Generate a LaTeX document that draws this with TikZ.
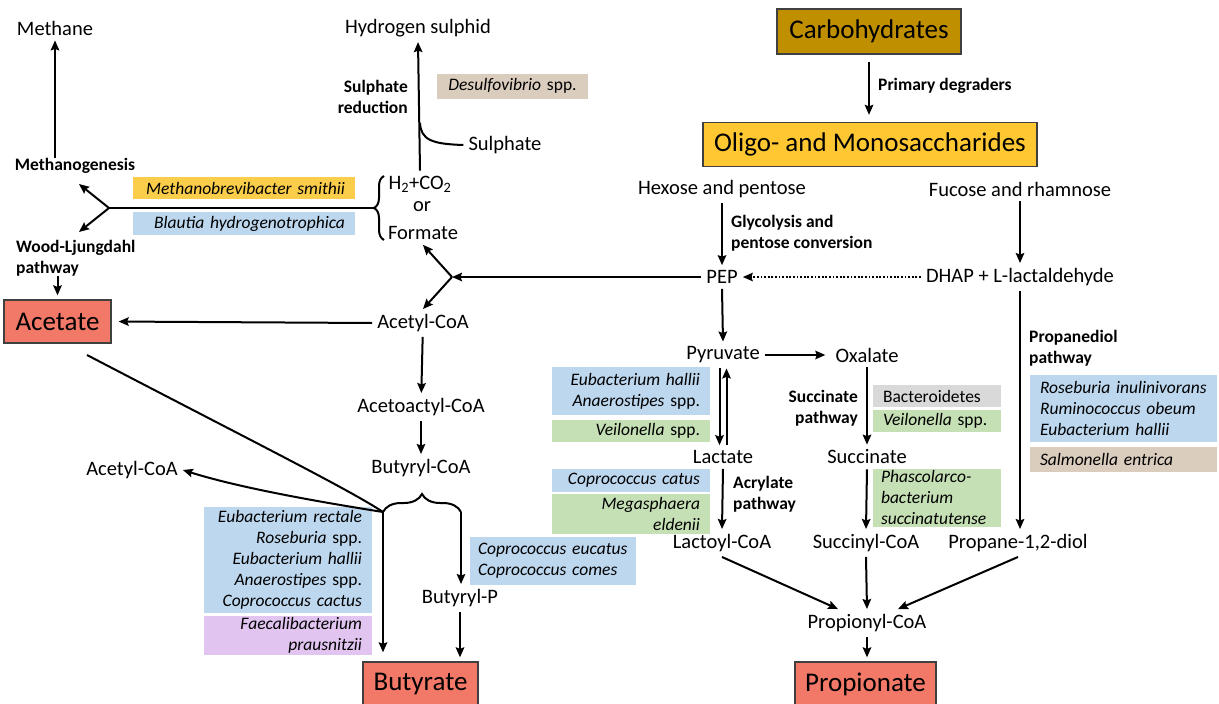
\documentclass[tikz,border=0pt]{standalone}
\usepackage{fontspec}
\setmainfont{Carlito}
\usetikzlibrary{arrows.meta,decorations.pathreplacing}
\definecolor{cblue}{RGB}{189,215,238}
\definecolor{cgreen}{RGB}{197,224,180}
\definecolor{cgrey}{RGB}{217,217,217}
\definecolor{ctan}{RGB}{218,205,190}
\definecolor{cyel}{RGB}{250,205,75}
\definecolor{cpurple}{RGB}{225,196,240}
\definecolor{cgold}{RGB}{191,143,0}
\definecolor{corange}{RGB}{255,200,50}
\definecolor{csalmon}{RGB}{242,120,104}
\begin{document}
\begin{tikzpicture}[x=1pt,y=-1pt,
  tx/.style={font=\fontsize{20.5}{24}\selectfont, inner sep=5pt},
  bl/.style={font=\fontsize{17.5}{21.5}\selectfont\bfseries, inner sep=0pt},
  spbox/.style={font=\fontsize{17.5}{21}\selectfont, inner xsep=10pt, inner ysep=0pt,
    execute at begin node={\hyphenpenalty=10000\exhyphenpenalty=10000}},
  bigbox/.style={draw=black!75, line width=1.3pt, font=\fontsize{27}{30}\selectfont, inner sep=0pt},
  arr/.style={-{Stealth[length=10pt,width=8.5pt,inset=1.5pt]}, line width=2pt},
  ln/.style={line width=2pt},
  brc/.style={line width=2pt, decorate},
]
\useasboundingbox (0,0) rectangle (1219,704);
\clip (0,0) rectangle (1219,704);

% ---------- big boxes ----------
\node[bigbox, fill=cgold, minimum width=184, minimum height=45] (carbo) at (869,31.5) {Carbohydrates};
\node[bigbox, fill=corange, minimum width=334, minimum height=44] (oligo) at (870,144.5) {Oligo- and Monosaccharides};
\node[bigbox, fill=csalmon, minimum width=107, minimum height=43] (acetate) at (57.5,321.5) {Acetate};
\node[bigbox, fill=csalmon, minimum width=115, minimum height=44] (butyrate) at (420.5,684) {Butyrate};
\node[bigbox, fill=csalmon, minimum width=141, minimum height=44] (propionate) at (865.5,684) {Propionate};

% ---------- species boxes ----------
\node[spbox, fill=cyel, minimum height=22, text width=202, align=right] (msm) at (244,188) {\textit{Methanobrevibacter smithii}};
\node[spbox, fill=cblue, minimum height=23, text width=202, align=right] (blau) at (244,223.5) {\textit{Blautia hydrogenotrophica}};
\node[spbox, fill=ctan, minimum height=25, text width=131, align=center] (desulf) at (512.5,86) {\textit{Desulfovibrio} spp.};
\node[spbox, fill=cblue, minimum height=106, text width=148, align=right] (eubr) at (288,559.5) {\textit{Eubacterium rectale}\\\textit{Roseburia} spp.\\\textit{Eubacterium hallii}\\\textit{Anaerostipes} spp.\\\textit{Coprococcus cactus}};
\node[spbox, fill=cpurple, minimum height=39, text width=148, align=right] (faec) at (288,635.5) {\textit{Faecalibacterium}\\\textit{prausnitzii}};
\node[spbox, fill=cblue, minimum height=48, inner xsep=8pt, text width=150, align=left] (copeu) at (553,561) {\textit{Coprococcus eucatus}\\\textit{Coprococcus comes}};
\node[spbox, fill=cblue, minimum height=48, text width=138, align=right] (ehal) at (631,391) {\textit{Eubacterium hallii}\\\textit{Anaerostipes} spp.};
\node[spbox, fill=cgreen, minimum height=22, text width=138, align=right] (veil1) at (631,431) {\textit{Veilonella} spp.};
\node[spbox, fill=cblue, minimum height=23, text width=138, align=right] (ccat) at (631,480) {\textit{Coprococcus catus}};
\node[spbox, fill=cgreen, minimum height=40, text width=138, align=right] (megas) at (631,514) {\textit{Megasphaera}\\\textit{eldenii}};
\node[spbox, fill=cgrey, minimum height=22, text width=108, align=left] (bact) at (937,396) {Bacteroidetes};
\node[spbox, fill=cgreen, minimum height=22, text width=108, align=left] (veil2) at (937,421) {\textit{Veilonella} spp.};
\node[spbox, fill=cgreen, minimum height=58, inner xsep=8pt, text width=112, align=left] (phasc) at (937,497.5) {\textit{Phascolarco-}\\\textit{bacterium}\\\textit{succinatutense}};
\node[spbox, fill=cblue, minimum height=67, text width=167, align=left] (rosi) at (1123.5,408.5) {\textit{Roseburia inulinivorans}\\\textit{Ruminococcus obeum}\\\textit{Eubacterium hallii}};
\node[spbox, fill=ctan, minimum height=25, text width=167, align=left] (salm) at (1123.5,459.5) {\textit{Salmonella entrica}};

% ---------- text nodes ----------
\node[tx] (methane) at (55,28) {Methane};
\node[tx] (hs) at (418,28) {Hydrogen sulphid};
\node[tx] (sulphate) at (505,145) {Sulphate};
\node[tx] (h2) at (420,184) {H\textsubscript{2}+CO\textsubscript{2}};
\node[tx] (or) at (422,207) {or};
\node[tx] (formate) at (423,233) {Formate};
\node[tx] (acetyl) at (423,323) {Acetyl-CoA};
\node[tx] (acetoac) at (421,407) {Acetoactyl-CoA};
\node[tx] (butcoa) at (421,468) {Butyryl-CoA};
\node[tx] (acl) at (132,470) {Acetyl-CoA};
\node[tx] (butp) at (460,598) {Butyryl-P};
\node[tx] (hexose) at (722,189) {Hexose and pentose};
\node[tx] (fucose) at (1020,189) {Fucose and rhamnose};
\node[tx] (pep) at (722,277) {PEP};
\node[tx] (dhap) at (1020,277) {DHAP + L-lactaldehyde};
\node[tx] (pyr) at (723,355) {Pyruvate};
\node[tx] (oxa) at (867,355) {Oxalate};
\node[tx] (lac) at (723,457) {Lactate};
\node[tx] (succ) at (867,457) {Succinate};
\node[tx] (lactoyl) at (722,543) {Lactoyl-CoA};
\node[tx] (succinyl) at (866,543) {Succinyl-CoA};
\node[tx] (propane) at (1018,543) {Propane-1,2-diol};
\node[tx] (propionyl) at (867,623) {Propionyl-CoA};

% ---------- bold labels ----------
\node[bl] (methanogen) at (75,166) {Methanogenesis};
\node[bl, anchor=west, align=left] (wood) at (16,258) {Wood-Ljungdahl\\pathway};
\node[bl, anchor=east, align=right] (sulred) at (408,97) {Sulphate\\reduction};
\node[bl, anchor=west] (prim) at (878,86) {Primary degraders};
\node[bl, anchor=west, align=left] (glyc) at (731,233) {Glycolysis and\\pentose conversion};
\node[bl, anchor=west, align=left] (acryl) at (733,494) {Acrylate\\pathway};
\node[bl, anchor=east, align=right] (succp) at (858,408) {Succinate\\pathway};
\node[bl, anchor=west, align=left] (propd) at (1029,348) {Propanediol\\pathway};

% ---------- junction coordinates ----------
\coordinate (v1) at (109,208);
\coordinate (v1a) at (79,184);
\coordinate (v1b) at (79,232);
\coordinate (btip) at (374,208);
\coordinate (sj) at (420,123);
\coordinate (v2) at (452,277);
\coordinate (acs) at (87,355);
\coordinate (bl) at (383,512);
\coordinate (br) at (461,512);

% ---------- left part ----------
\draw[arr] (methane.south |- methanogen.north) -- (methane.south);
\draw[ln] (btip) -- (v1);
\draw[arr] (v1) -- (v1a);
\draw[arr] (v1) -- (v1b);
\draw[arr, shorten >=4pt] (acetate.north |- wood.south) -- (acetate.north);
\draw[brc, decoration={brace, amplitude=10pt}] (384,240) -- (384,176);
\draw[arr] (h2.north) -- (hs.south);
\draw[ln] (sj) .. controls (421,140) and (432,144) .. (sulphate.west);
\draw[arr] (pep.west) -- (v2);
\draw[arr] (v2) -- (formate.south);
\draw[arr] (v2) -- (acetyl.north);
\draw[arr, shorten >=7pt] (acetyl.west) -- (acetate.east);
\draw[arr] (acetyl) -- (acetoac);
\draw[arr] (acetoac) -- (butcoa);
\draw[brc, decoration={brace, amplitude=18pt}] (bl) -- (br);
\draw[ln] (acs) .. controls (250,440) and (350,490) .. (bl);
\draw[arr] (bl) .. controls (320,502) and (240,488) .. (acl.east);
\draw[arr, shorten >=9pt] (bl) -- (bl |- butyrate.north);
\draw[arr] (br) -- (br |- butp.north);
\draw[arr, shorten >=4pt] (butp.south) -- (butp.south |- butyrate.north);

% ---------- right part ----------
\draw[arr, shorten <=7pt, shorten >=7pt] (carbo.south) -- (carbo.south |- oligo.north);
\draw[arr] (hexose.south) -- (pep.north);
\draw[arr] (fucose.south) -- (dhap.north);
\draw[arr, dash pattern=on 1.8pt off 1.8pt, line width=1.8pt] (dhap.west) -- (pep.east);
\draw[arr] (pep.south) -- (pyr.north);
\draw[arr, shorten >=5pt] (pyr.east) -- (oxa.west);
\draw[arr] ([xshift=-3.5pt]pyr.south) -- ([xshift=-3.5pt]lac.north);
\draw[arr] ([xshift=3.5pt]lac.north) -- ([xshift=3.5pt]pyr.south);
\draw[arr] (lac.south) -- (lactoyl.north);
\draw[arr] (oxa.south) -- (succ.north);
\draw[arr] (succ.south) -- (succinyl.north);
\draw[arr] (dhap.south) -- (dhap.south |- propane.north);
\draw[arr] (lactoyl.south) -- ([xshift=-29pt]propionyl.north);
\draw[arr] (succinyl.south) -- (propionyl.north);
\draw[arr] (propane.south) -- ([xshift=31pt]propionyl.north);
\draw[arr, shorten >=4pt] (propionyl.south) -- (propionyl.south |- propionate.north);
\end{tikzpicture}
\end{document}
